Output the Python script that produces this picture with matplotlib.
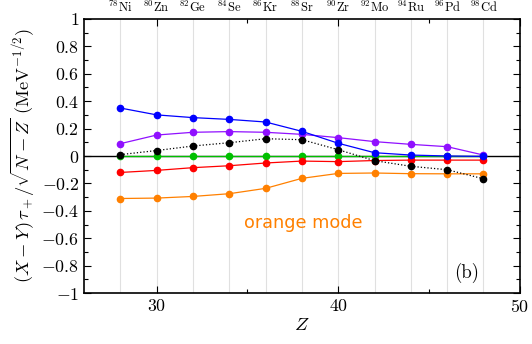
import numpy as np
import matplotlib
matplotlib.use("Agg")
import matplotlib.pyplot as plt
from matplotlib.ticker import MultipleLocator, FuncFormatter

plt.rcParams['font.family'] = 'serif'
plt.rcParams['font.serif'] = ['cmr10', 'DejaVu Serif']
plt.rcParams['mathtext.fontset'] = 'cm'
plt.rcParams['axes.formatter.use_mathtext'] = True

Z = [28, 30, 32, 34, 36, 38, 40, 42, 44, 46, 48]
nuclei = ['78Ni', '80Zn', '82Ge', '84Se', '86Kr', '88Sr', '90Zr', '92Mo', '94Ru', '96Pd', '98Cd']
blue = [0.35, 0.30, 0.28, 0.267, 0.248, 0.18, 0.093, 0.024, 0.007, 0.0, -0.003]
purple = [0.09, 0.153, 0.173, 0.178, 0.173, 0.158, 0.134, 0.105, 0.085, 0.068, 0.007]
black = [0.01, 0.04, 0.073, 0.097, 0.126, 0.119, 0.046, -0.034, -0.075, -0.10, -0.166]
green = [0.0, 0.0, 0.0, 0.0, 0.0, 0.0, 0.0, 0.0, 0.0, 0.0, 0.0]
red = [-0.12, -0.105, -0.085, -0.071, -0.051, -0.037, -0.041, -0.033, -0.03, -0.03, -0.03]
orange = [-0.31, -0.307, -0.295, -0.275, -0.236, -0.163, -0.127, -0.124, -0.129, -0.13, -0.13]

fig = plt.figure(figsize=(5.32, 3.44), dpi=100)
ax = fig.add_axes([0.158, 0.148, 0.819, 0.797])

for z in Z:
    ax.axvline(z, color='#e0e0e0', lw=0.8, zorder=0)
ax.axhline(0, color='black', lw=1.0, zorder=1)

ms = 4.5
lw = 0.9
ax.plot(Z, green, '-o', color='#00c000', ms=ms, lw=lw, zorder=3)
ax.plot(Z, red, '-o', color='#ff0000', ms=ms, lw=lw, zorder=3)
ax.plot(Z, orange, '-o', color='#ff8000', ms=ms, lw=lw, zorder=3)
ax.plot(Z, purple, '-o', color='#9010ff', ms=ms, lw=lw, zorder=3)
ax.plot(Z, blue, '-o', color='#0000ff', ms=ms, lw=lw, zorder=4)
ax.plot(Z, black, ':o', color='black', ms=ms, lw=lw, zorder=5)

ax.set_xlim(26, 50)
ax.set_ylim(-1, 1)
ax.xaxis.set_major_locator(MultipleLocator(10))
ax.xaxis.set_minor_locator(MultipleLocator(5))
ax.yaxis.set_major_locator(MultipleLocator(0.2))
ax.yaxis.set_minor_locator(MultipleLocator(0.1))
ax.yaxis.set_major_formatter(FuncFormatter(lambda v, p: r'$%g$' % round(v, 2)))
ax.xaxis.set_major_formatter(FuncFormatter(lambda v, p: r'$%g$' % v))
ax.tick_params(which='both', direction='in', top=True, right=True, labelsize=12.8)
ax.tick_params(which='major', length=5, width=0.8)
ax.tick_params(which='minor', length=3, width=0.8)
for s in ax.spines.values():
    s.set_linewidth(1.2)

ax.set_xlabel(r'$Z$', fontsize=13.5, labelpad=1)
ax.set_ylabel(r'$(X-Y)\,\tau_+/\sqrt{N-Z}$ (MeV$^{-1/2}$)', fontsize=13.3, labelpad=3)

for z, name in zip(Z, nuclei):
    ax.text(z, 1.015, r'$^{%s}$%s' % (name[:2], name[2:]), ha='center', va='bottom',
            fontsize=9, transform=ax.get_xaxis_transform())

ax.text(34.8, -0.49, 'orange mode', color='#ff8000', fontsize=12.7,
        family='DejaVu Sans', ha='left', va='center')
ax.text(47.05, -0.85, '(b)', fontsize=13.5, ha='center', va='center')

fig.savefig('out.png', dpi=100)
